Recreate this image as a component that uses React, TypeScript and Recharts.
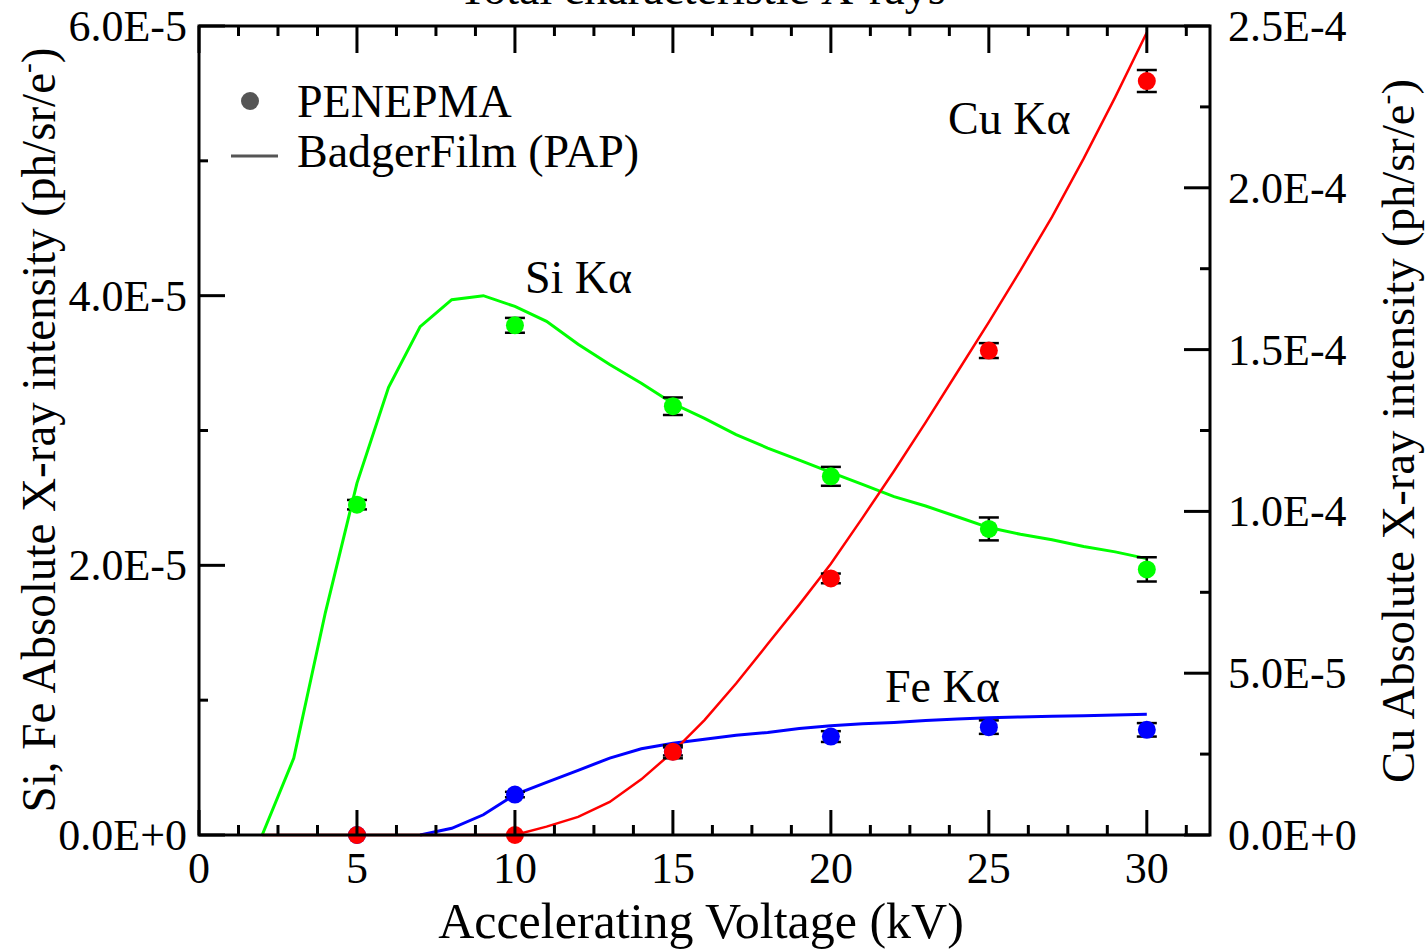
import React from "react"
import { ComposedChart, Line, Scatter, ErrorBar, XAxis, YAxis } from "recharts"

// values in units of 1E-5 ph/sr/e-
const W = 1427
const H = 950
const PLOT_TOP = 26
const FONT = "'Liberation Serif', 'Times New Roman', serif"

// BadgerFilm (PAP) curves
const siPapKv = [2, 3, 4, 5, 6, 7, 8, 9, 10, 11, 12, 13, 14, 15, 16, 17, 18, 19, 20, 21, 22, 23, 24, 25, 26, 27, 28, 29, 30]
const siPap = [0, 0.57, 1.65, 2.61, 3.32, 3.77, 3.97, 4.0, 3.92, 3.81, 3.64, 3.49, 3.35, 3.2, 3.09, 2.97, 2.87, 2.78, 2.69, 2.6, 2.51, 2.44, 2.36, 2.28, 2.23, 2.19, 2.14, 2.1, 2.05]

const fePapKv = [7, 8, 9, 10, 11, 12, 13, 14, 15, 16, 17, 18, 19, 20, 21, 22, 23, 24, 25, 26, 27, 28, 29, 30]
const fePap = [0, 0.05, 0.15, 0.3, 0.39, 0.48, 0.57, 0.64, 0.68, 0.71, 0.74, 0.76, 0.79, 0.81, 0.825, 0.835, 0.85, 0.86, 0.87, 0.875, 0.88, 0.885, 0.89, 0.895]

const cuPapKv = [2, 3, 4, 5, 6, 7, 8, 9, 10, 11, 12, 13, 14, 15, 16, 17, 18, 19, 20, 21, 22, 23, 24, 25, 26, 27, 28, 29, 30]
const cuPap = [0, 0, 0, 0, 0, 0, 0, 0, 0, 0.26, 0.56, 1.02, 1.72, 2.57, 3.55, 4.68, 5.9, 7.12, 8.38, 9.8, 11.25, 12.75, 14.3, 15.85, 17.45, 19.1, 20.9, 22.8, 24.8]

// PENEPMA simulations
const penKv = [5, 10, 15, 20, 25, 30]
const siPen = [2.45, 3.78, 3.18, 2.66, 2.27, 1.97]
const siErr = [0.035, 0.055, 0.065, 0.07, 0.085, 0.09]
const fePen = [0, 0.3, 0.62, 0.73, 0.8, 0.78]
const feErr = [0, 0.02, 0.03, 0.04, 0.05, 0.05]
const cuPen = [0, 0, 2.57, 7.93, 14.97, 23.3]
const cuErr = [0, 0, 0.2, 0.15, 0.23, 0.34]

const xTicks = [0, 1.25, 2.5, 3.75, 5, 6.25, 7.5, 8.75, 10, 11.25, 12.5, 13.75, 15, 16.25, 17.5, 18.75, 20, 21.25, 22.5, 23.75, 25, 26.25, 27.5, 28.75, 30, 31.25]
const leftTicks = [0, 1, 2, 3, 4, 5, 6]
const rightTicks = [0, 2.5, 5, 7.5, 10, 12.5, 15, 17.5, 20, 22.5, 25]

const toLine = (kv: number[], vals: number[]) => kv.map((v, i) => ({ v, y: vals[i] }))
const toPts = (vals: number[], err: number[]) => penKv.map((v, i) => ({ v, y: vals[i], err: err[i] }))

const expLabel = (v: number) => (v * 1e-5).toExponential(1).toUpperCase()

function XTick(props: any) {
    const { x, y, payload } = props
    const major = Math.abs(payload.value % 5) < 1e-9
    return (
        <g>
            <line x1={x} y1={y} x2={x} y2={y - (major ? 25 : 10)} stroke="#000" strokeWidth={3} />
            <line x1={x} y1={PLOT_TOP} x2={x} y2={PLOT_TOP + (major ? 27 : 10)} stroke="#000" strokeWidth={3} />
            {major && (
                <text x={x} y={y + 48} textAnchor="middle" fontSize={44} fontFamily={FONT} fill="#000">
                    {payload.value}
                </text>
            )}
        </g>
    )
}

function LeftTick(props: any) {
    const { x, y, payload } = props
    const major = payload.value % 2 === 0
    return (
        <g>
            <line x1={x} y1={y} x2={x + (major ? 26 : 9)} y2={y} stroke="#000" strokeWidth={3} />
            {major && (
                <text x={x - 12} y={y + 15} textAnchor="end" fontSize={44} fontFamily={FONT} fill="#000">
                    {expLabel(payload.value)}
                </text>
            )}
        </g>
    )
}

function RightTick(props: any) {
    const { x, y, payload } = props
    const major = Math.abs(payload.value % 5) < 1e-9
    return (
        <g>
            <line x1={x} y1={y} x2={x - (major ? 26 : 10)} y2={y} stroke="#000" strokeWidth={3} />
            {major && (
                <text x={x + 18} y={y + 15} textAnchor="start" fontSize={44} fontFamily={FONT} fill="#000">
                    {expLabel(payload.value)}
                </text>
            )}
        </g>
    )
}

const dotShape = (color: string) => (p: any) => <circle cx={p.cx} cy={p.cy} r={9} fill={color} />

function Overlay() {
    const t = { fontFamily: FONT, fill: "#000" }
    return (
        <svg width={W} height={H} style={{ position: "absolute", left: 0, top: 0, pointerEvents: "none" }}>
            <rect x={199} y={PLOT_TOP} width={1011} height={809} fill="none" stroke="#000" strokeWidth={3} />
            <text x={702} y={4} textAnchor="middle" fontSize={46} {...t}>Total characteristic X-rays</text>

            <circle cx={250} cy={101} r={9} fill="#555" />
            <text x={297} y={117} fontSize={46} {...t}>PENEPMA</text>
            <line x1={231} y1={156} x2={278} y2={156} stroke="#555" strokeWidth={3} />
            <text x={297} y={167} fontSize={46} {...t}>BadgerFilm (PAP)</text>

            <text x={525} y={293} fontSize={46} {...t}>Si Kα</text>
            <text x={948} y={134} fontSize={46} {...t}>Cu Kα</text>
            <text x={885} y={702} fontSize={46} {...t}>Fe Kα</text>

            <text x={701} y={938} textAnchor="middle" fontSize={50} {...t}>Accelerating Voltage (kV)</text>

            <text
                x={55} y={430} textAnchor="middle" fontSize={48} transform="rotate(-90 55 430)"
                textLength={765} lengthAdjust="spacingAndGlyphs" {...t}
            >
                Si, Fe Absolute X-ray intensity (ph/sr/e<tspan fontSize={30} dy={-18}>-</tspan><tspan dy={18}>)</tspan>
            </text>
            <text
                x={1414} y={431} textAnchor="middle" fontSize={47} transform="rotate(-90 1414 431)"
                textLength={704} lengthAdjust="spacingAndGlyphs" {...t}
            >
                Cu Absolute X-ray intensity (ph/sr/e<tspan fontSize={30} dy={-18}>-</tspan><tspan dy={18}>)</tspan>
            </text>
        </svg>
    )
}

export default function App() {
    return (
        <div style={{ position: "absolute", left: 0, top: 0, width: W, height: H, background: "#fff" }}>
            <ComposedChart width={W} height={H} margin={{ top: PLOT_TOP, right: 0, bottom: 0, left: 0 }}>
                <XAxis
                    dataKey="v" type="number" domain={[0, 32]} ticks={xTicks} interval={0}
                    height={115} tickSize={0} tickMargin={0} axisLine={false} tickLine={false}
                    tick={<XTick />}
                />
                <YAxis
                    yAxisId="left" orientation="left" type="number" domain={[0, 6]} ticks={leftTicks}
                    interval={0} width={199} tickSize={0} tickMargin={0} axisLine={false} tickLine={false}
                    tick={<LeftTick />}
                />
                <YAxis
                    yAxisId="right" orientation="right" type="number" domain={[0, 25]} ticks={rightTicks}
                    interval={0} width={217} tickSize={0} tickMargin={0} axisLine={false} tickLine={false}
                    tick={<RightTick />}
                />

                <Line data={toLine(siPapKv, siPap)} dataKey="y" yAxisId="left" type="linear" stroke="#00ff00" strokeWidth={3} dot={false} isAnimationActive={false} />
                <Line data={toLine(fePapKv, fePap)} dataKey="y" yAxisId="left" type="linear" stroke="#0000ff" strokeWidth={3} dot={false} isAnimationActive={false} />
                <Line data={toLine(cuPapKv, cuPap)} dataKey="y" yAxisId="right" type="linear" stroke="#ff0000" strokeWidth={2.5} dot={false} isAnimationActive={false} />

                <Scatter data={toPts(siPen, siErr)} dataKey="y" yAxisId="left" fill="#00ff00" shape={dotShape("#00ff00")} isAnimationActive={false}>
                    <ErrorBar dataKey="err" direction="y" width={10} stroke="#000" strokeWidth={2.5} isAnimationActive={false} />
                </Scatter>
                <Scatter data={toPts(fePen, feErr)} dataKey="y" yAxisId="left" fill="#0000ff" shape={dotShape("#0000ff")} isAnimationActive={false}>
                    <ErrorBar dataKey="err" direction="y" width={10} stroke="#000" strokeWidth={2.5} isAnimationActive={false} />
                </Scatter>
                <Scatter data={toPts(cuPen, cuErr)} dataKey="y" yAxisId="right" fill="#ff0000" shape={dotShape("#ff0000")} isAnimationActive={false}>
                    <ErrorBar dataKey="err" direction="y" width={10} stroke="#000" strokeWidth={2.5} isAnimationActive={false} />
                </Scatter>
            </ComposedChart>
            <Overlay />
        </div>
    )
}
